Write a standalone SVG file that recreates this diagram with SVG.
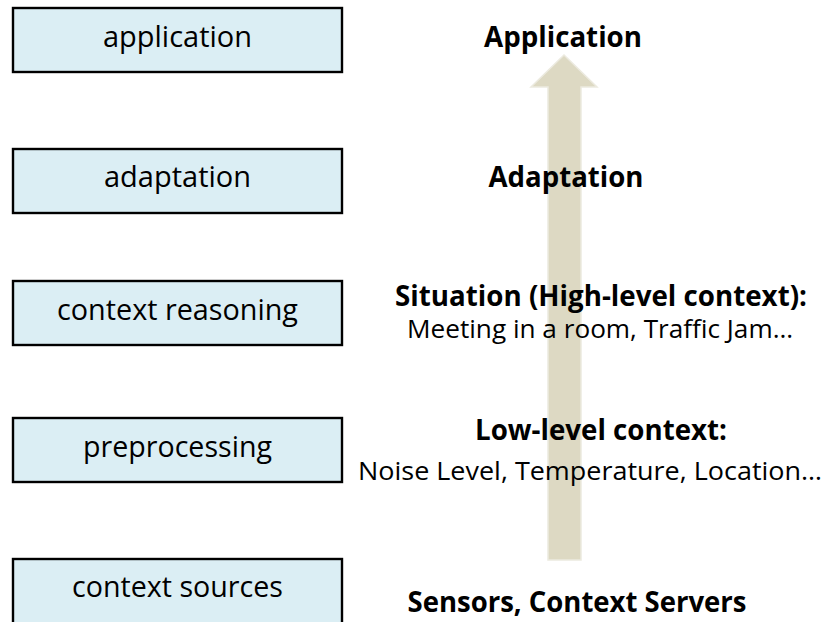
<svg xmlns="http://www.w3.org/2000/svg" width="824" height="622" viewBox="0 0 824 622">
  <style>
    .box { fill: #DBEEF4; stroke: #000000; stroke-width: 2.4; }
    .boxlabel { font-family: "Open Sans", "Liberation Sans", sans-serif; font-size: 29px; fill: #000000; text-anchor: middle; }
    .title { font-family: "Open Sans", "Liberation Sans", sans-serif; font-size: 29px; font-weight: bold; fill: #000000; text-anchor: middle; }
    .detail { font-family: "Open Sans", "Liberation Sans", sans-serif; font-size: 25px; fill: #000000; text-anchor: middle; }
    .flow { fill: #DDD9C3; stroke: #ECEADF; stroke-width: 1.5; }
  </style>

  <rect width="824" height="622" fill="#FFFFFF"/>

  <!-- upward block arrow behind the level descriptions -->
  <g id="connectors">
    <path class="flow" d="M564 55 L597 87 L581 87 L581 560 L548 560 L548 87 L531 87 Z"/>
  </g>

  <!-- processing stages, left column -->
  <g id="stage-application">
    <rect class="box" x="13" y="8" width="329" height="64"/>
    <text class="boxlabel" x="177.5" y="47" textLength="149" lengthAdjust="spacingAndGlyphs">application</text>
  </g>
  <g id="stage-adaptation">
    <rect class="box" x="13" y="149" width="329" height="64"/>
    <text class="boxlabel" x="177.5" y="187" textLength="147" lengthAdjust="spacingAndGlyphs">adaptation</text>
  </g>
  <g id="stage-reasoning">
    <rect class="box" x="13" y="281" width="329" height="64"/>
    <text class="boxlabel" x="177.5" y="320" textLength="241" lengthAdjust="spacingAndGlyphs">context reasoning</text>
  </g>
  <g id="stage-preprocessing">
    <rect class="box" x="13" y="418" width="329" height="64"/>
    <text class="boxlabel" x="177.5" y="457" textLength="189" lengthAdjust="spacingAndGlyphs">preprocessing</text>
  </g>
  <g id="stage-sources">
    <rect class="box" x="13" y="559" width="329" height="66"/>
    <text class="boxlabel" x="177.5" y="597" textLength="211" lengthAdjust="spacingAndGlyphs">context sources</text>
  </g>

  <!-- context levels, right column -->
  <g id="level-application">
    <text class="title" x="563" y="47" textLength="158" lengthAdjust="spacingAndGlyphs">Application</text>
  </g>
  <g id="level-adaptation">
    <text class="title" x="566" y="187" textLength="155" lengthAdjust="spacingAndGlyphs">Adaptation</text>
  </g>
  <g id="level-situation">
    <text class="title" x="601" y="306" textLength="412" lengthAdjust="spacingAndGlyphs">Situation (High-level context):</text>
    <text class="detail" x="600" y="338" textLength="386" lengthAdjust="spacingAndGlyphs">Meeting in a room, Traffic Jam…</text>
  </g>
  <g id="level-lowlevel">
    <text class="title" x="601" y="440" textLength="252" lengthAdjust="spacingAndGlyphs">Low-level context:</text>
    <text class="detail" x="590" y="480" textLength="464" lengthAdjust="spacingAndGlyphs">Noise Level, Temperature, Location…</text>
  </g>
  <g id="level-sensors">
    <text class="title" x="577" y="612" textLength="339" lengthAdjust="spacingAndGlyphs">Sensors, Context Servers</text>
  </g>
</svg>
